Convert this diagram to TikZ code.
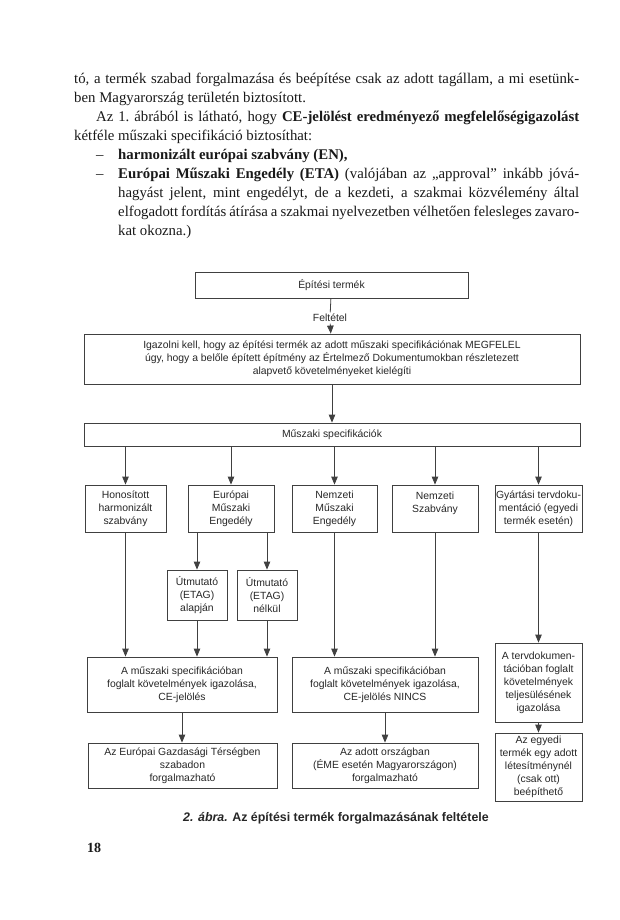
\documentclass[tikz,border=0pt]{standalone}
\usepackage{fontspec}
\setmainfont{Liberation Serif}
\setsansfont{Liberation Sans}
\usetikzlibrary{arrows.meta}

\begin{document}
\begin{tikzpicture}[x=1pt,y=-1pt,
    betu/.style={font=\sffamily\fontsize{10.4}{13}\selectfont,text=black!85},
    doboz/.style={betu,draw=black!75,line width=0.8pt,inner sep=0pt,align=center},
    vonal/.style={draw=black!75,line width=0.8pt},
    nyil/.style={vonal,-{Triangle[length=8pt,width=6.5pt]}}]
        \useasboundingbox (0,0) rectangle (620,920);
        % szoveg
        \node[anchor=base west,inner sep=0pt,text=black!90] (szoveg) at (74,84) {\parbox[t]{505pt}{\fontsize{14.8}{19}\selectfont\tolerance=9999\hyphenpenalty=10000
        tó, a termék szabad forgalmazása és beépítése csak az adott tagállam, a mi esetünk-\linebreak
        ben Magyarország területén biztosított.\par
        \hspace*{22pt}Az 1.~ábrából is látható, hogy \textbf{CE-jelölést eredményező megfelelőségigazolást}\linebreak
        kétféle műszaki specifikáció biztosíthat:\par
        \hangindent=44pt\hangafter=1\hspace*{22pt}\makebox[22pt][l]{–}\textbf{harmonizált európai szabvány (EN),}\par
        \hangindent=44pt\hangafter=1\hspace*{22pt}\makebox[22pt][l]{–}\textbf{Európai Műszaki Engedély (ETA)} (valójában az „approval” inkább jóvá-\linebreak
        hagyást jelent, mint engedélyt, de a kezdeti, a szakmai közvélemény által\linebreak
        elfogadott fordítás átírása a szakmai nyelvezetben vélhetően felesleges zavaro-\linebreak
        kat okozna.)\par}};
        % abra
        \node[doboz,minimum width=273pt,minimum height=26pt] (epit) at (331.5,285) {Építési termék};
        \node[betu,inner sep=1.5pt] (felt) at (330,318) {Feltétel};
        \node[doboz,minimum width=496pt,minimum height=50pt] (igaz) at (332,359) {Igazolni kell, hogy az építési termék az adott műszaki specifikációnak MEGFELEL\\úgy, hogy a belőle épített építmény az Értelmező Dokumentumokban részletezett\\alapvető követelményeket kielégíti};
        \node[doboz,minimum width=496pt,minimum height=23pt] (spec) at (332,434.5) {Műszaki specifikációk};
        \node[doboz,minimum width=81pt,minimum height=47pt] (hon) at (125.5,508.5) {Honosított\\harmonizált\\szabvány};
        \node[doboz,minimum width=86pt,minimum height=47pt] (eu) at (231,508.5) {Európai\\Műszaki\\Engedély};
        \node[doboz,minimum width=85pt,minimum height=47pt] (nm) at (334.5,508.5) {Nemzeti\\Műszaki\\Engedély};
        \node[doboz,minimum width=86pt,minimum height=47pt] (nsz) at (435,508.5) {Nemzeti\\Szabvány\\~};
        \node[doboz,minimum width=87pt,minimum height=47pt] (gy) at (538.5,508.5) {Gyártási tervdoku-\\mentáció (egyedi\\termék esetén)};
        \node[doboz,minimum width=60pt,minimum height=50pt] (ut1) at (197,595) {Útmutató\\(ETAG)\\alapján};
        \node[doboz,minimum width=60pt,minimum height=50pt] (ut2) at (267,595) {Útmutató\\(ETAG)\\nélkül};
        \node[doboz,minimum width=190pt,minimum height=55pt] (ce) at (182,684.5) {A műszaki specifikációban\\foglalt követelmények igazolása,\\CE-jelölés};
        \node[doboz,minimum width=186pt,minimum height=55pt] (nincs) at (385,684.5) {A műszaki specifikációban\\foglalt követelmények igazolása,\\CE-jelölés NINCS};
        \node[doboz,minimum width=87pt,minimum height=79pt] (terv) at (538.5,682.5) {A tervdokumen-\\tációban foglalt\\követelmények\\teljesülésének\\igazolása};
        \node[doboz,minimum width=189pt,minimum height=45pt] (egt) at (182.5,765.5) {Az Európai Gazdasági Térségben\\szabadon\\forgalmazható};
        \node[doboz,minimum width=186pt,minimum height=45pt] (orsz) at (385,765.5) {Az adott országban\\(ÉME esetén Magyarországon)\\forgalmazható};
        \node[doboz,minimum width=87pt,minimum height=68pt] (egyedi) at (538.5,767) {Az egyedi\\termék egy adott\\létesítménynél\\(csak ott)\\beépíthető};
        % nyilak
        \draw[vonal] (epit) -- (felt);
        \draw[nyil] (felt) -- (igaz);
        \draw[nyil] (igaz) -- (spec);
        \foreach \n in {hon,eu,nm,nsz,gy}
            \draw[nyil] (spec.south -| \n) -- (\n);
        \draw[nyil] (eu.south -| ut1) -- (ut1);
        \draw[nyil] (eu.south -| ut2) -- (ut2);
        \draw[nyil] (hon) -- (hon |- ce.north);
        \draw[nyil] (ut1) -- (ut1 |- ce.north);
        \draw[nyil] (ut2) -- (ut2 |- ce.north);
        \draw[nyil] (nm) -- (nm |- nincs.north);
        \draw[nyil] (nsz) -- (nsz |- nincs.north);
        \draw[nyil] (gy) -- (terv);
        \draw[nyil] (ce) -- (ce |- egt.north);
        \draw[nyil] (nincs) -- (nincs |- orsz.north);
        \draw[nyil] (terv) -- (egyedi);
        % felirat
        \node[font=\sffamily\bfseries\fontsize{12.4}{14}\selectfont,text=black!85] (cim) at (336,818) {\textit{2. ábra.} Az építési termék forgalmazásának feltétele};
        \node[font=\bfseries\fontsize{14}{16}\selectfont,anchor=west,inner sep=0pt,text=black!90] (oldal) at (87,848) {18};
    \end{tikzpicture}
\end{document}
